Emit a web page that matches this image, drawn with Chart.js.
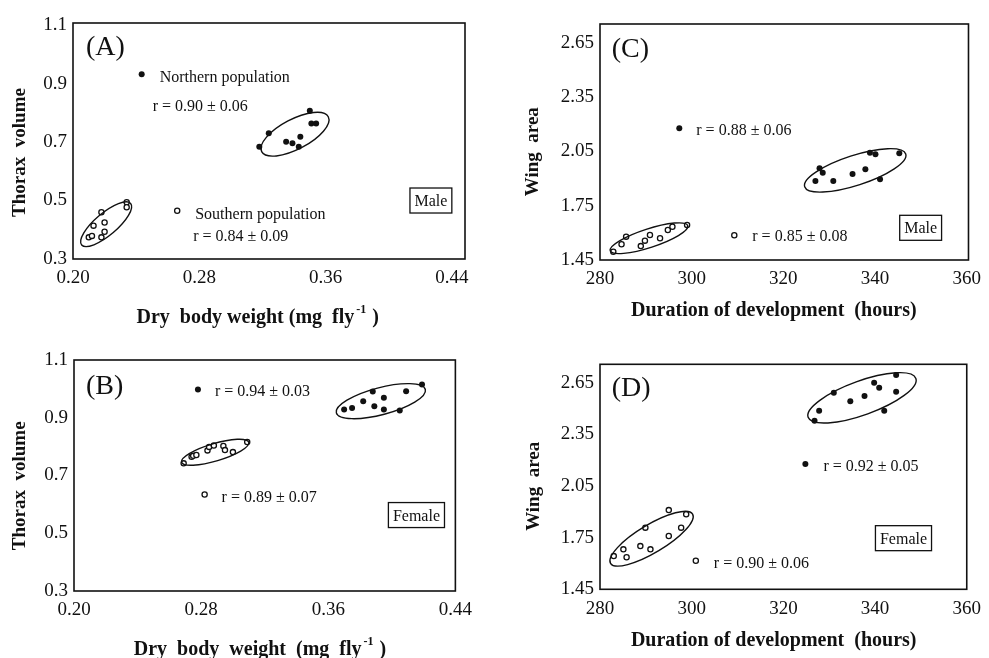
<!DOCTYPE html>
<html>
<head>
<meta charset="utf-8">
<script src="https://cdn.jsdelivr.net/npm/chart.js@4.4.1/dist/chart.umd.min.js"></script>
<style>
  body { margin: 0; background: #fff; }
  canvas { position: absolute; }
</style>
</head>
<body>
<canvas id="panelA" width="480" height="329" style="left:0;top:0"></canvas>
<canvas id="panelB" width="480" height="329" style="left:0;top:329px"></canvas>
<canvas id="panelC" width="509" height="329" style="left:480px;top:0"></canvas>
<canvas id="panelD" width="509" height="329" style="left:480px;top:329px"></canvas>
<script>
// tick labels
const weightTicks = [0.20, 0.28, 0.36, 0.44];
const thoraxTicks = [0.3, 0.5, 0.7, 0.9, 1.1];
const durationTicks = [280, 300, 320, 340, 360];
const wingTicks = [1.45, 1.75, 2.05, 2.35, 2.65];

// (A) males: thorax volume vs dry body weight
const maleNorthWeight = [0.318, 0.324, 0.335, 0.339, 0.343, 0.344, 0.350, 0.351, 0.354];
const maleNorthThorax = [0.684, 0.730, 0.701, 0.696, 0.684, 0.718, 0.807, 0.763, 0.763];
const maleSouthWeight = [0.210, 0.212, 0.213, 0.218, 0.220, 0.220, 0.218, 0.234, 0.234];
const maleSouthThorax = [0.374, 0.379, 0.414, 0.460, 0.425, 0.393, 0.374, 0.494, 0.477];

// (B) females: thorax volume vs dry body weight
const femaleNorthWeight = [0.370, 0.375, 0.382, 0.388, 0.389, 0.395, 0.395, 0.405, 0.409, 0.419];
const femaleNorthThorax = [0.929, 0.934, 0.957, 0.991, 0.940, 0.969, 0.929, 0.925, 0.992, 1.015];
const femaleSouthWeight = [0.269, 0.274, 0.275, 0.277, 0.284, 0.285, 0.288, 0.294, 0.295, 0.300, 0.309];
const femaleSouthThorax = [0.742, 0.765, 0.768, 0.771, 0.787, 0.799, 0.804, 0.802, 0.788, 0.781, 0.816];

// (C) males: wing area vs duration of development
const maleNorthDuration = [327.0, 327.9, 328.6, 330.9, 335.1, 337.9, 338.9, 340.1, 341.1, 345.3];
const maleNorthWing = [1.887, 1.957, 1.933, 1.887, 1.926, 1.952, 2.043, 2.035, 1.896, 2.040];
const maleSouthDuration = [282.9, 284.7, 285.7, 288.9, 289.8, 290.9, 293.1, 294.8, 295.8, 299.0];
const maleSouthWing = [1.496, 1.537, 1.579, 1.527, 1.557, 1.588, 1.570, 1.616, 1.634, 1.644];

// (D) females: wing area vs duration of development
const femaleNorthDuration = [326.8, 327.8, 331.0, 334.6, 337.7, 339.8, 340.9, 342.0, 344.6, 344.6];
const femaleNorthWing = [2.429, 2.487, 2.592, 2.543, 2.573, 2.650, 2.621, 2.487, 2.695, 2.598];
const femaleSouthDuration = [283.0, 285.1, 285.8, 288.8, 289.9, 291.0, 295.0, 295.0, 297.7, 298.8];
const femaleSouthWing = [1.643, 1.682, 1.636, 1.701, 1.808, 1.682, 1.910, 1.760, 1.808, 1.886];

const SERIF = "'Liberation Serif', 'Times New Roman', serif";
const INK = '#111';

const zip = (xs, ys) => xs.map((v, i) => ({ x: v, y: ys[i] }));

// box, ellipses, key markers and all the lettering
const decor = {
  id: 'decor',
  afterDatasetsDraw(chart, args, o) {
    const { ctx, chartArea: a, scales: { x, y } } = chart;
    const px = v => x.getPixelForValue(v);
    const py = v => y.getPixelForValue(v);
    ctx.save();
    ctx.strokeStyle = INK;
    ctx.fillStyle = INK;
    ctx.lineWidth = 1.6;
    ctx.strokeRect(a.left, a.top, a.right - a.left, a.bottom - a.top);

    ctx.lineWidth = 1.4;
    o.ellipses.forEach(e => {
      const x1 = px(e.from[0]), y1 = py(e.from[1]);
      const x2 = px(e.to[0]), y2 = py(e.to[1]);
      ctx.beginPath();
      ctx.ellipse((x1 + x2) / 2, (y1 + y2) / 2, Math.hypot(x2 - x1, y2 - y1) / 2, e.minor,
        Math.atan2(y2 - y1, x2 - x1), 0, Math.PI * 2);
      ctx.stroke();
    });

    ctx.font = '16px ' + SERIF;
    ctx.textBaseline = 'alphabetic';
    o.keys.forEach(k => {
      const cx = px(k.at[0]), cy = py(k.at[1]);
      ctx.beginPath();
      if (k.filled) {
        ctx.arc(cx, cy, 3, 0, Math.PI * 2);
        ctx.fill();
      } else {
        ctx.lineWidth = 1.3;
        ctx.arc(cx, cy, 2.6, 0, Math.PI * 2);
        ctx.stroke();
      }
      k.lines.forEach(l => ctx.fillText(l.text, cx + l.dx, cy + l.dy));
    });

    // Male / Female box
    const bw = ctx.measureText(o.sex.text).width + 9;
    const bx = px(o.sex.at[0]), by = py(o.sex.at[1]);
    ctx.lineWidth = 1.3;
    ctx.strokeRect(bx - bw / 2, by - 12.5, bw, 25);
    ctx.textAlign = 'center';
    ctx.fillText(o.sex.text, bx, by + 5.5);

    // panel letter
    ctx.textAlign = 'left';
    ctx.font = '28px ' + SERIF;
    ctx.fillText(o.letter.text, a.left + o.letter.dx, a.top + o.letter.dy);

    // y title
    ctx.font = 'bold 19px ' + SERIF;
    ctx.save();
    ctx.translate(o.yTitle.x, o.yTitle.y);
    ctx.rotate(-Math.PI / 2);
    ctx.textAlign = 'center';
    ctx.fillText(o.yTitle.text, 0, 0);
    ctx.restore();

    // x title, with optional superscript
    const t = o.xTitle;
    ctx.font = 'bold 20px ' + SERIF;
    const w1 = ctx.measureText(t.text).width;
    let w2 = 0, w3 = 0;
    if (t.sup) {
      ctx.font = 'bold 12px ' + SERIF;
      w2 = ctx.measureText(t.sup).width + 3;
      ctx.font = 'bold 20px ' + SERIF;
      w3 = ctx.measureText(t.tail).width;
    }
    let sx = t.x - (w1 + w2 + w3) / 2;
    ctx.fillText(t.text, sx, t.y);
    if (t.sup) {
      ctx.font = 'bold 12px ' + SERIF;
      ctx.fillText(t.sup, sx + w1 + 2, t.y - 10);
      ctx.font = 'bold 20px ' + SERIF;
      ctx.fillText(t.tail, sx + w1 + w2, t.y);
    }
    ctx.restore();
  }
};

function scatterPanel(id, p) {
  const tickFont = { family: SERIF, size: 19 };
  new Chart(document.getElementById(id), {
    type: 'scatter',
    data: {
      datasets: [
        {
          label: 'Northern population',
          data: zip(p.north[0], p.north[1]),
          pointRadius: 3,
          pointBackgroundColor: INK,
          pointBorderColor: INK,
          pointBorderWidth: 0
        },
        {
          label: 'Southern population',
          data: zip(p.south[0], p.south[1]),
          pointRadius: 2.6,
          pointBackgroundColor: '#fff',
          pointBorderColor: INK,
          pointBorderWidth: 1.3
        }
      ]
    },
    options: {
      responsive: false,
      animation: false,
      layout: { padding: { left: 0, top: p.area.top, right: p.area.right, bottom: 0 } },
      plugins: {
        legend: { display: false },
        tooltip: { enabled: false },
        decor: p.decor
      },
      scales: {
        x: {
          type: 'linear',
          min: p.xRange[0],
          max: p.xRange[1],
          grid: { display: false, drawTicks: false },
          border: { display: false },
          afterBuildTicks: s => { s.ticks = p.xTicks.map(v => ({ value: v })); },
          afterFit: s => { s.height = p.area.xHeight; },
          ticks: {
            font: tickFont,
            color: INK,
            padding: 8,
            maxRotation: 0,
            autoSkip: false,
            callback: v => v.toFixed(p.xDigits)
          }
        },
        y: {
          type: 'linear',
          min: p.yRange[0],
          max: p.yRange[1],
          grid: { display: false, drawTicks: false },
          border: { display: false },
          afterBuildTicks: s => { s.ticks = p.yTicks.map(v => ({ value: v })); },
          afterFit: s => { s.width = p.area.left; },
          ticks: {
            font: tickFont,
            color: INK,
            padding: 6,
            autoSkip: false,
            callback: v => v.toFixed(p.yDigits)
          }
        }
      }
    },
    plugins: [decor]
  });
}

scatterPanel('panelA', {
  north: [maleNorthWeight, maleNorthThorax],
  south: [maleSouthWeight, maleSouthThorax],
  xRange: [0.20, 0.4483], yRange: [0.3, 1.107],
  xTicks: weightTicks, yTicks: thoraxTicks, xDigits: 2, yDigits: 1,
  area: { left: 73, top: 23, right: 15, xHeight: 70 },
  decor: {
    ellipses: [
      { from: [0.3195, 0.667], to: [0.3617, 0.7865], minor: 15 },
      { from: [0.2055, 0.348], to: [0.2365, 0.490], minor: 11 }
    ],
    keys: [
      { at: [0.2435, 0.932], filled: true, lines: [
        { text: 'Northern population', dx: 18, dy: 8 },
        { text: 'r = 0.90 ± 0.06', dx: 11, dy: 37 }] },
      { at: [0.266, 0.465], filled: false, lines: [
        { text: 'Southern population', dx: 18, dy: 8 },
        { text: 'r = 0.84 ± 0.09', dx: 16, dy: 30 }] }
    ],
    sex: { text: 'Male', at: [0.4267, 0.5] },
    letter: { text: '(A)', dx: 13, dy: 32 },
    yTitle: { text: 'Thorax  volume', x: 25, y: 152.5 },
    xTitle: { text: 'Dry  body weight (mg  fly', sup: '-1', tail: ' )', x: 257.7, y: 322.7 }
  }
});

scatterPanel('panelB', {
  north: [femaleNorthWeight, femaleNorthThorax],
  south: [femaleSouthWeight, femaleSouthThorax],
  xRange: [0.20, 0.44], yRange: [0.3, 1.1],
  xTicks: weightTicks, yTicks: thoraxTicks, xDigits: 2, yDigits: 1,
  area: { left: 74, top: 31, right: 18, xHeight: 67 },
  decor: {
    ellipses: [
      { from: [0.3651, 0.917], to: [0.4211, 0.998], minor: 13.5 },
      { from: [0.2677, 0.746], to: [0.310, 0.815], minor: 8.7 }
    ],
    keys: [
      { at: [0.278, 0.998], filled: true, lines: [{ text: 'r = 0.94 ± 0.03', dx: 17, dy: 7 }] },
      { at: [0.2822, 0.634], filled: false, lines: [{ text: 'r = 0.89 ± 0.07', dx: 17, dy: 7 }] }
    ],
    sex: { text: 'Female', at: [0.4155, 0.563] },
    letter: { text: '(B)', dx: 12, dy: 34 },
    yTitle: { text: 'Thorax  volume', x: 25, y: 156.8 },
    xTitle: { text: 'Dry  body  weight  (mg  fly', sup: '-1', tail: ' )', x: 260, y: 326 }
  }
});

scatterPanel('panelC', {
  north: [maleNorthDuration, maleNorthWing],
  south: [maleSouthDuration, maleSouthWing],
  xRange: [280, 360.4], yRange: [1.45, 2.755],
  xTicks: durationTicks, yTicks: wingTicks, xDigits: 0, yDigits: 2,
  area: { left: 120, top: 24, right: 19, xHeight: 69 },
  decor: {
    ellipses: [
      { from: [324.66, 1.855], to: [346.71, 2.036], minor: 15 },
      { from: [282.23, 1.501], to: [299.14, 1.640], minor: 9.3 }
    ],
    keys: [
      { at: [297.3, 2.178], filled: true, lines: [{ text: 'r = 0.88 ± 0.06', dx: 17, dy: 7 }] },
      { at: [309.3, 1.587], filled: false, lines: [{ text: 'r = 0.85 ± 0.08', dx: 18, dy: 6 }] }
    ],
    sex: { text: 'Male', at: [349.96, 1.628] },
    letter: { text: '(C)', dx: 11.7, dy: 32.7 },
    yTitle: { text: 'Wing  area', x: 57.5, y: 151.7 },
    xTitle: { text: 'Duration of development  (hours)', x: 293.8, y: 316 }
  }
});

scatterPanel('panelD', {
  north: [femaleNorthDuration, femaleNorthWing],
  south: [femaleSouthDuration, femaleSouthWing],
  xRange: [280, 360], yRange: [1.45, 2.757],
  xTicks: durationTicks, yTicks: wingTicks, xDigits: 0, yDigits: 2,
  area: { left: 120, top: 35.3, right: 15, xHeight: 68.7 },
  decor: {
    ellipses: [
      { from: [325.4, 2.449], to: [348.9, 2.675], minor: 17 },
      { from: [282.3, 1.601], to: [300.2, 1.887], minor: 14 }
    ],
    keys: [
      { at: [324.8, 2.178], filled: true, lines: [{ text: 'r = 0.92 ± 0.05', dx: 18, dy: 7 }] },
      { at: [300.9, 1.616], filled: false, lines: [{ text: 'r = 0.90 ± 0.06', dx: 18, dy: 7 }] }
    ],
    sex: { text: 'Female', at: [346.2, 1.747] },
    letter: { text: '(D)', dx: 11.7, dy: 31.4 },
    yTitle: { text: 'Wing  area', x: 59, y: 157.3 },
    xTitle: { text: 'Duration of development  (hours)', x: 293.7, y: 317 }
  }
});
</script>
</body>
</html>
